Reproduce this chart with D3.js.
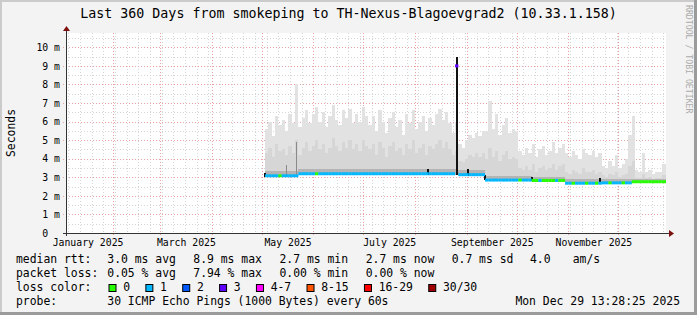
<!DOCTYPE html>
<html lang="en">
<head>
<meta charset="UTF-8">
<title>Last 360 Days from smokeping to TH-Nexus-Blagoevgrad2</title>
<style>
  body { margin: 0; background: #fff; }
  svg text { font-family: "DejaVu Sans Mono", monospace; white-space: pre; }
</style>
</head>
<body>
<svg id="chart" width="697" height="315"></svg>
<script src="https://d3js.org/d3.v7.min.js"></script>
<script>
// ---- values ----
var rangeEnd = new Date(2025, 11, 29, 13, 28, 25);
var rangeDays = 360;
var sampleStart = new Date(2025, 4, 3);   // first column with data
var sampleDays = 2;

// top of the smoke (max ping), ms, one value per 2 days
var smokeMax = [
  5.6, 6.0, 5.2, 6.3, 5.8, 6.1, 5.5, 6.4, 5.9, 8.0, 5.7,
  6.2, 6.6, 5.9, 6.4, 6.8, 6.0, 6.5, 5.7, 6.3, 6.9, 6.1, 5.8, 6.6, 6.2, 6.7, 5.9, 6.4, 6.0, 6.8, 6.3,
  5.8, 6.3, 5.5, 6.6, 6.0, 5.4, 6.2, 6.5, 5.7, 6.1, 5.3, 6.4, 5.9, 6.6, 5.6, 6.0, 6.3, 5.5, 6.2, 5.8,
  6.4, 6.7, 6.1, 6.5, 5.9, 5.4,
  6.0,
  4.8, 4.6, 5.0, 5.3, 5.1, 5.4, 5.2, 5.5,
  5.5, 7.1, 5.6, 6.4, 5.3, 5.8, 6.2, 5.4, 5.6, 5.5,
  4.4, 4.2, 4.6, 4.3, 4.8, 4.1, 4.5, 4.7, 4.2, 4.4, 4.9, 4.3, 4.6, 4.8,
  4.3, 4.1, 4.4, 4.2, 4.0, 4.5, 4.3, 4.2, 4.4, 4.1, 4.3,
  3.6, 3.5, 3.9, 3.6, 4.2, 3.5, 3.7, 4.0,
  5.3, 6.3,
  3.4, 3.3, 4.3, 3.3, 3.4, 3.2, 3.3, 3.3, 3.7
];
// upper edge of the denser middle smoke, ms
var smokeMid = [
  4.3, 4.6, 4.1, 4.8, 4.4, 4.5, 4.2, 4.7, 4.3, 5.0, 4.2,
  4.6, 4.9, 4.4, 4.7, 5.0, 4.5, 4.8, 4.3, 4.6, 5.1, 4.7, 4.4, 4.9, 4.6, 5.0, 4.5, 4.8, 4.4, 5.0, 4.7,
  4.5, 4.8, 4.2, 4.9, 4.6, 4.1, 4.7, 4.9, 4.4, 4.6, 4.2, 4.8, 4.5, 5.0, 4.3, 4.6, 4.8, 4.2, 4.7, 4.5,
  4.8, 5.0, 4.6, 4.9, 4.5, 4.2,
  4.4,
  3.9, 3.8, 4.0, 4.2, 4.1, 4.3, 4.1, 4.3,
  4.0, 4.6, 4.1, 4.4, 3.9, 4.2, 4.4, 4.0, 4.1, 4.0,
  3.5, 3.4, 3.6, 3.4, 3.7, 3.3, 3.5, 3.6, 3.4, 3.5, 3.7, 3.4, 3.6, 3.7,
  3.3, 3.2, 3.4, 3.3, 3.2, 3.5, 3.3, 3.3, 3.4, 3.2, 3.3,
  3.1, 3.0, 3.2, 3.1, 3.3, 3.0, 3.1, 3.2,
  3.6, 3.9,
  2.95, 2.95, 3.2, 2.95, 3.0, 2.9, 2.95, 2.95, 3.1
];
// median rtt change points: [from, median ms, dark band low, dark band high]
var medianSteps = [
  ["2025-05-03", 3.08, 3.00, 3.35],
  ["2025-05-23", 3.19, 3.10, 3.42],
  ["2025-08-25", 9.00, 3.10, 3.42],
  ["2025-08-27", 3.14, 3.05, 3.38],
  ["2025-09-12", 2.85, 2.78, 3.05],
  ["2025-10-10", 2.83, 2.76, 3.00],
  ["2025-10-30", 2.68, 2.62, 2.90],
  ["2025-11-21", 2.70, 2.64, 2.90],
  ["2025-12-09", 2.76, 2.70, 2.92]
];
// loss bucket change points: [from, bucket index]
var lossSteps = [
  ["2025-05-03", 1], ["2025-05-11", 0], ["2025-05-13", 1],
  ["2025-06-02", 0], ["2025-06-04", 1],
  ["2025-08-25", 3], ["2025-08-27", 1],
  ["2025-10-02", 0], ["2025-10-04", 1],
  ["2025-10-10", 0], ["2025-10-14", 1], ["2025-10-16", 0], ["2025-10-24", 1], ["2025-10-26", 0],
  ["2025-10-30", 1], ["2025-11-03", 0], ["2025-11-05", 1], ["2025-11-11", 0], ["2025-11-13", 1],
  ["2025-11-17", 0], ["2025-11-19", 1], ["2025-11-25", 0], ["2025-11-27", 1],
  ["2025-12-03", 0], ["2025-12-05", 1], ["2025-12-09", 0]
];
// dark single columns: [date, low ms, high ms]
var blackMarks = [
  ["2025-05-03", 3.00, 3.25],
  ["2025-08-09", 3.10, 3.45],
  ["2025-08-26", 3.10, 9.50],
  ["2025-09-02", 3.05, 3.45],
  ["2025-09-12", 2.85, 3.15],
  ["2025-10-10", 2.78, 3.00],
  ["2025-11-20", 2.65, 2.95]
];
var greyMarks = [
  ["2025-05-16", 3.10, 3.65],
  ["2025-05-22", 3.10, 4.90]
];

var yTicks = [0, 1, 2, 3, 4, 5, 6, 7, 8, 9, 10];
var monthLabels = ["January 2025", "March 2025", "May 2025", "July 2025", "September 2025", "November 2025"];
var labelMonths = [0, 2, 4, 6, 8, 10];

var lossLabels = ["0", "1", "2", "3", "4-7", "8-15", "16-29", "30/30"];
var lossColors = ["#26ff00", "#00b8ff", "#0059ff", "#5e00ff", "#ff00ff", "#ff5500", "#ff0000", "#a10000"];

var rttStats = ["3.0 ms avg", "8.9 ms max", "2.7 ms min", "2.7 ms now", "0.7 ms sd", "4.0", "am/s"];
var lossStats = ["0.05 % avg", "7.94 % max", "0.00 % min", "0.00 % now"];
var probeText = "30 ICMP Echo Pings (1000 Bytes) every 60s";
var stampText = "Mon Dec 29 13:28:25 2025";
var titleText = "Last 360 Days from smokeping to TH-Nexus-Blagoevgrad2 (10.33.1.158)";

// ---- layout ----
var W = 697, H = 315;
var plot = {left: 66, right: 666, top: 33, bottom: 233};
var svg = d3.select("#chart");
var parse = d3.timeParse("%Y-%m-%d");

var rangeStart = d3.timeDay.offset(rangeEnd, -rangeDays);
var x = d3.scaleTime().domain([rangeStart, rangeEnd]).range([plot.left, plot.right]);
var y = d3.scaleLinear().domain([0, 10.77]).range([plot.bottom, plot.top]);

function stepAt(steps, date) {
    var cur = steps[0];
    steps.forEach(function(s) { if (parse(s[0]) <= date) cur = s; });
    return cur;
}

var samples = smokeMax.map(function(v, i) {
    var t0 = d3.timeDay.offset(sampleStart, i * sampleDays);
    var t1 = i === smokeMax.length - 1 ? rangeEnd : d3.timeDay.offset(t0, sampleDays);
    var m = stepAt(medianSteps, t0);
    return {t0: t0, t1: t1, max: v, mid: smokeMid[i], median: m[1], lo: m[2], hi: m[3],
            loss: stepAt(lossSteps, t0)[1]};
});

// background + 3d frame
svg.append("rect").attr("width", W).attr("height", H).attr("fill", "#f3f3f3");
svg.append("path").attr("d", "M0,0H" + W + "V2H2V" + H + "H0Z").attr("fill", "#cbcbcb");
svg.append("path").attr("d", "M" + W + ",0V" + H + "H0V" + (H - 3) + "H" + (W - 3) + "V0Z").attr("fill", "#9b9b9b");

svg.append("rect")
    .attr("x", plot.left).attr("y", plot.top)
    .attr("width", plot.right - plot.left).attr("height", plot.bottom - plot.top)
    .attr("fill", "#fff");

// grid
var grid = svg.append("g").attr("shape-rendering", "crispEdges");
var weeks = d3.timeWeek.range(rangeStart, rangeEnd);
var months = d3.timeMonth.range(rangeStart, rangeEnd);
var minorY = d3.range(0.5, 10.8, 0.5).filter(function(v) { return v % 1 !== 0; });
var majorY = yTicks.slice(1);

grid.selectAll(".vmin").data(weeks).enter().append("line")
    .attr("x1", function(d) { return Math.round(x(d)) + 0.5; })
    .attr("x2", function(d) { return Math.round(x(d)) + 0.5; })
    .attr("y1", plot.top).attr("y2", plot.bottom)
    .attr("stroke", "#d6d6d6").attr("stroke-dasharray", "1,2");
grid.selectAll(".hmin").data(minorY).enter().append("line")
    .attr("x1", plot.left).attr("x2", plot.right)
    .attr("y1", function(d) { return Math.round(y(d)) + 0.5; })
    .attr("y2", function(d) { return Math.round(y(d)) + 0.5; })
    .attr("stroke", "#d6d6d6").attr("stroke-dasharray", "1,2");
grid.selectAll(".vmaj").data(months).enter().append("line")
    .attr("x1", function(d) { return Math.round(x(d)) + 0.5; })
    .attr("x2", function(d) { return Math.round(x(d)) + 0.5; })
    .attr("y1", plot.top).attr("y2", plot.bottom + 3)
    .attr("stroke", "#eba4a4").attr("stroke-dasharray", "1,2");
grid.selectAll(".hmaj").data(majorY).enter().append("line")
    .attr("x1", plot.left - 3).attr("x2", plot.right)
    .attr("y1", function(d) { return Math.round(y(d)) + 0.5; })
    .attr("y2", function(d) { return Math.round(y(d)) + 0.5; })
    .attr("stroke", "#eba4a4").attr("stroke-dasharray", "1,2");

// smoke
var smoke = svg.append("g").attr("shape-rendering", "crispEdges");
function bars(cls, top, bottom, fill) {
    smoke.selectAll("." + cls).data(samples).enter().append("rect")
        .attr("x", function(d) { return x(d.t0); })
        .attr("width", function(d) { return x(d.t1) - x(d.t0); })
        .attr("y", function(d) { return y(top(d)); })
        .attr("height", function(d) { return y(bottom(d)) - y(top(d)); })
        .attr("fill", fill);
}
bars("s1", function(d) { return d.max; }, function(d) { return d.lo; }, "#e2e2e2");
bars("s2", function(d) { return d.mid; }, function(d) { return d.lo; }, "#d6d6d6");
bars("s3", function(d) { return d.hi; }, function(d) { return d.lo; }, "#b4b4b4");

function marks(data, fill, w) {
    smoke.selectAll(null).data(data).enter().append("rect")
        .attr("x", function(d) { return x(parse(d[0])) - w / 2; })
        .attr("width", w)
        .attr("y", function(d) { return y(d[2]); })
        .attr("height", function(d) { return y(d[1]) - y(d[2]); })
        .attr("fill", fill);
}
marks(greyMarks, "#8a8a8a", 1.5);
marks(blackMarks, "#111", 2);

// median line coloured by loss
svg.append("g").selectAll("line").data(samples).enter().append("line")
    .attr("x1", function(d) { return x(d.t0); })
    .attr("x2", function(d) { return x(d.t1); })
    .attr("y1", function(d) { return y(d.median); })
    .attr("y2", function(d) { return y(d.median); })
    .attr("stroke", function(d) { return lossColors[d.loss]; })
    .attr("stroke-width", 3);

// axes
var axisG = svg.append("g").attr("shape-rendering", "crispEdges");
axisG.append("line").attr("x1", plot.left + 0.5).attr("x2", plot.left + 0.5)
    .attr("y1", plot.bottom + 3).attr("y2", plot.top - 4).attr("stroke", "#333");
axisG.append("line").attr("x1", plot.left - 3).attr("x2", plot.right + 4)
    .attr("y1", plot.bottom + 0.5).attr("y2", plot.bottom + 0.5).attr("stroke", "#333");
svg.append("path")
    .attr("d", "M" + (plot.left + 0.5) + "," + (plot.top - 7) + "l-3.5,5h7z")
    .attr("fill", "#7f1010");
svg.append("path")
    .attr("d", "M" + (plot.right + 8) + "," + (plot.bottom + 0.5) + "l-5,-3.5v7z")
    .attr("fill", "#7f1010");

var yAxis = svg.append("g")
    .attr("transform", "translate(" + plot.left + ",0)")
    .call(d3.axisLeft(y).tickValues(yTicks).tickSize(0).tickPadding(6)
        .tickFormat(function(d) { return d === 0 ? "0  " : d + " m"; }));
yAxis.select(".domain").remove();
yAxis.selectAll("text").attr("font-family", "DejaVu Sans Mono").attr("font-size", "9.8px").attr("fill", "#000");

var labelDates = labelMonths.map(function(m) {
    var a = new Date(2025, m, 1), b = new Date(2025, m + 1, 1);
    return new Date((a.getTime() + b.getTime()) / 2);
});
var xAxis = svg.append("g")
    .attr("transform", "translate(0," + plot.bottom + ")")
    .call(d3.axisBottom(x).tickValues(labelDates).tickSize(0).tickPadding(6)
        .tickFormat(function(d, i) { return monthLabels[i]; }));
xAxis.select(".domain").remove();
xAxis.selectAll("text").attr("font-family", "DejaVu Sans Mono").attr("font-size", "9.8px").attr("fill", "#000");

// titles
svg.append("text").attr("x", W / 2).attr("y", 18.3).attr("text-anchor", "middle")
    .attr("font-size", "13.3px").text(titleText);
svg.append("text").attr("transform", "translate(15," + ((plot.top + plot.bottom) / 2) + ") rotate(-90)")
    .attr("text-anchor", "middle").attr("font-size", "11.4px").text("Seconds");
svg.append("text").attr("transform", "translate(685.5,5) rotate(90)")
    .attr("font-size", "8.2px").attr("fill", "#ababab").text("RRDTOOL / TOBI OETIKER");

// legend
var legend = svg.append("g").attr("font-size", "11.4px");
var colX = [107.3, 193.3, 279.5, 365.7, 451.7, 530, 572.7];
legend.append("text").attr("x", 16).attr("y", 263).text("median rtt:");
rttStats.forEach(function(s, i) { legend.append("text").attr("x", colX[i]).attr("y", 263).text(s); });
legend.append("text").attr("x", 16).attr("y", 277).text("packet loss:");
lossStats.forEach(function(s, i) { legend.append("text").attr("x", colX[i]).attr("y", 277).text(s); });
legend.append("text").attr("x", 16).attr("y", 291).text("loss color:");
var bx = 108.5;
lossLabels.forEach(function(lbl, i) {
    legend.append("rect").attr("x", bx + 0.5).attr("y", 284.5).attr("width", 7).attr("height", 7)
        .attr("fill", lossColors[i]).attr("stroke", "#000").attr("stroke-width", 1);
    var t = legend.append("text").attr("x", bx + 14.7).attr("y", 291).text(lbl);
    bx = bx + 14.7 + t.node().getComputedTextLength() + 15.3;
});
legend.append("text").attr("x", 16).attr("y", 305).text("probe:");
legend.append("text").attr("x", colX[0]).attr("y", 305).text(probeText);
legend.append("text").attr("x", 680).attr("y", 305).attr("text-anchor", "end").text(stampText);
</script>
</body>
</html>
